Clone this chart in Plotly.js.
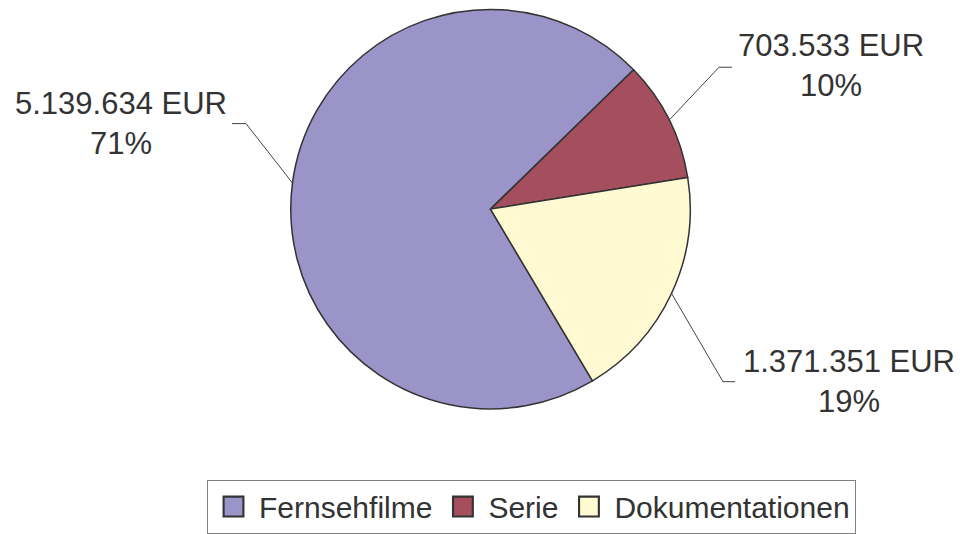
<!DOCTYPE html>
<html>
<head>
<meta charset="utf-8">
<script src="https://cdn.plot.ly/plotly-3.0.1.min.js"></script>
<style>html,body{margin:0;padding:0;background:#fff;}#chart{width:963px;height:534px;}</style>
</head>
<body>
<div id="chart"></div>
<script>
// ---- data ----
var categories = ["Fernsehfilme", "Serie", "Dokumentationen"];
var amounts = [5139634, 703533, 1371351];
var currency = "EUR";

// ---- style / layout config ----
var colors = ["#9A94C8", "#A44E5E", "#FFFAD2"];
var W = 963, H = 534;
var cx = 490.5, cy = 211.5, R = 199.5;
var domainPad = 2.5;
var rotationDeg = 149.3;
// label text centers and leader-line elbows/ends (pixels)
var textPos = [[120.5, 125], [831, 66], [848.5, 386]];
var elbows = [[246, 125], [719, 68], [723, 386]];
var ends = [[232, 125], [732, 68], [735, 386]];

function fmt(n) {
  return String(n).replace(/\B(?=(\d{3})+(?!\d))/g, ".");
}
function px(x) { return x / W; }
function py(y) { return 1 - y / H; }

var total = amounts.reduce(function (a, b) { return a + b; }, 0);

var annotations = [];
var shapes = [];
var cum = 0;
for (var i = 0; i < amounts.length; i++) {
  var frac = amounts[i] / total;
  var mid = (rotationDeg + (cum + frac / 2) * 360) * Math.PI / 180;
  cum += frac;
  var ax = cx + R * Math.sin(mid);
  var ay = cy - R * Math.cos(mid);
  annotations.push({
    xref: "paper", yref: "paper",
    x: px(textPos[i][0]), y: py(textPos[i][1]),
    xanchor: "center", yanchor: "middle",
    showarrow: false, align: "center",
    text: fmt(amounts[i]) + " " + currency + "<br>" + Math.round(frac * 100) + "%",
    font: {family: "Liberation Sans, Arial, sans-serif", size: 31, color: "#333333"}
  });
  shapes.push({
    type: "path", xref: "paper", yref: "paper",
    path: "M" + px(ax) + "," + py(ay) + " L" + px(elbows[i][0]) + "," + py(elbows[i][1]) +
          " L" + px(ends[i][0]) + "," + py(ends[i][1]),
    line: {color: "#444444", width: 1}
  });
}

var trace = {
  type: "pie",
  labels: categories,
  values: amounts,
  sort: false,
  direction: "clockwise",
  rotation: rotationDeg,
  textinfo: "none",
  hoverinfo: "label+value+percent",
  marker: {colors: colors, line: {color: "#333333", width: 1.5}},
  domain: {x: [px(cx - R - domainPad), px(cx + R + domainPad)],
           y: [py(cy + R + domainPad), py(cy - R - domainPad)]}
};

var layout = {
  width: W, height: H,
  margin: {l: 0, r: 0, t: 0, b: 0},
  paper_bgcolor: "#ffffff",
  showlegend: true,
  legend: {
    orientation: "h",
    x: px(531.5), xanchor: "center",
    y: py(485), yanchor: "top",
    bordercolor: "#808080", borderwidth: 1,
    font: {family: "Liberation Sans, Arial, sans-serif", size: 30, color: "#333333"},
    itemwidth: 41, tracegroupgap: 0
  },
  annotations: annotations,
  shapes: shapes
};

Plotly.newPlot("chart", [trace], layout, {displayModeBar: false, staticPlot: true}).then(function (gd) {
  var pts = gd.querySelectorAll(".legendpoints path");
  pts.forEach(function (p) {
    var t = p.getAttribute("transform") || "";
    p.setAttribute("transform", t + " scale(1.65)");
    p.style.strokeWidth = "1.3px";
    p.style.stroke = "#333333";
  });
});
</script>
</body>
</html>
